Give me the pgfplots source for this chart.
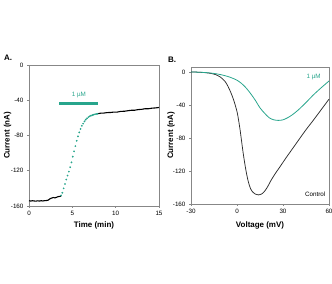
\documentclass[border=0pt]{standalone}
\usepackage{fontspec}
\setmainfont{Liberation Sans}
\usepackage{pgfplots}
\pgfplotsset{compat=1.18}

\definecolor{drug}{RGB}{40,165,140}
\definecolor{framegray}{RGB}{135,135,135}
\definecolor{ctrl}{RGB}{45,45,45}

\pgfplotsset{
  panel/.style={
    scale only axis,
    anchor=south west,
    axis line style={framegray, line width=0.6bp},
    tick style={framegray, line width=0.5bp},
    tick align=outside,
    major tick length=2bp,
    xtick pos=bottom, ytick pos=left,
    tick label style={font=\fontsize{6.3}{7}\selectfont},
    /pgf/number format/assume math mode=true,
    ymin=-160,
    ytick={-160,-120,-80,-40,0},
    clip=false,
  }
}

\begin{document}
\begin{tikzpicture}[x=1bp,y=1bp]
\path[use as bounding box] (0,0) rectangle (332,284);

% ---------- A: current vs time ----------
\begin{axis}[panel, at={(29bp,78bp)}, width=130bp, height=141bp,
  xmin=0, xmax=15, ymax=0, xtick={0,5,10,15}]
  % baseline before application
  \addplot[black, line width=1.1bp] coordinates {
    (0,-154) (0.2,-154.4) (0.4,-154) (0.6,-154.3) (0.8,-154.5) (1.0,-154.1)
    (1.2,-154.4) (1.4,-154.0) (1.6,-154.3) (1.8,-153.9) (2.0,-153.8) (2.2,-153.4)
    (2.4,-152.0) (2.6,-151.0) (2.8,-150.4) (3.0,-150.8) (3.2,-150.0) (3.4,-149.3)
    (3.6,-149.0) (3.7,-148.5)};
  % during 1 uM application
  \addplot[only marks, mark=*, mark size=0.65bp, drug] coordinates {
    (3.70,-148) (3.85,-145) (4.00,-140) (4.15,-135) (4.30,-130) (4.45,-125.5)
    (4.60,-121) (4.75,-116) (4.90,-110.5) (5.05,-104) (5.20,-98) (5.35,-92)
    (5.50,-86) (5.65,-81) (5.80,-76.5) (5.95,-72.5) (6.10,-69) (6.25,-66.5)
    (6.40,-64) (6.55,-62) (6.70,-60.5) (6.85,-59.2) (7.00,-58.2) (7.15,-57.5)
    (7.30,-56.9) (7.45,-56.4) (7.60,-56.0) (7.75,-55.6) (7.90,-55.3)};
  % after application
  \addplot[black, line width=1.1bp] coordinates {
    (7.9,-55.3) (8.0,-55.2) (8.3,-54.6) (8.6,-54.6) (9.0,-54.0) (9.4,-53.9)
    (9.8,-53.4) (10.2,-53.4) (10.6,-52.6) (11.0,-52.5) (11.4,-51.9) (11.8,-51.4)
    (12.2,-51.3) (12.6,-50.6) (13.0,-50.3) (13.4,-49.6) (13.8,-49.6) (14.2,-49.0)
    (14.6,-48.7) (15.0,-48.2)};
  % application bar
  \addplot[drug, line width=2.6bp] coordinates {(3.5,-43.6) (8.0,-43.6)};
  \node[drug, font=\fontsize{6.3}{7}\selectfont, anchor=south] at (axis cs:5.75,-41.5) {1 µM};
\end{axis}

% ---------- B: current vs voltage ----------
\begin{axis}[panel, at={(191bp,80bp)}, width=138bp, height=137bp,
  xmin=-30, xmax=60, ymax=6, xtick={-30,0,30,60}]
  \addplot[ctrl, line width=0.75bp, smooth] coordinates {
    (-30,0) (-25,-0.3) (-20,-1) (-17,-1.8) (-14,-3.2) (-11,-6) (-8,-11)
    (-6,-17) (-4,-25) (-2,-35) (0,-48) (1,-58) (2,-70) (3,-84) (4,-98)
    (5,-110) (6,-121) (7,-130) (8,-137) (9,-142) (10,-145) (12,-148)
    (14,-149) (16,-148) (18,-144.5) (20,-139) (22,-132) (25,-123) (28,-115)
    (32,-104) (36,-93.5) (40,-83) (45,-70) (50,-58) (55,-45.5) (60,-33)};
  \addplot[drug, line width=0.8bp, smooth] coordinates {
    (-30,0) (-25,-0.3) (-20,-0.8) (-15,-1.8) (-10,-3.5) (-6,-5.5) (-3,-7.5)
    (0,-10) (3,-14) (6,-19.5) (9,-26.5) (12,-34.5) (15,-43.5) (18,-50)
    (21,-55.5) (24,-58) (27,-58.7) (30,-58) (33,-55.5) (36,-52) (40,-46)
    (45,-37) (50,-27.5) (55,-19) (60,-11)};
  \node[font=\fontsize{6.3}{7}\selectfont] at (axis cs:51,-148.5) {Control};
  \node[drug, font=\fontsize{6.3}{7}\selectfont] at (axis cs:50,-6) {1 µM};
\end{axis}

% axis titles and panel letters
\begin{scope}[font=\fontsize{8}{9}\selectfont\bfseries]
  \node[rotate=90] at (7.5,148.5) {Current (nA)};
  \node[rotate=90] at (171,148.5) {Current (nA)};
  \node at (94,59) {Time (min)};
  \node at (260,59) {Voltage (mV)};
  \node at (8,226.5) {A.};
  \node at (172,224.5) {B.};
\end{scope}
\end{tikzpicture}
\end{document}
